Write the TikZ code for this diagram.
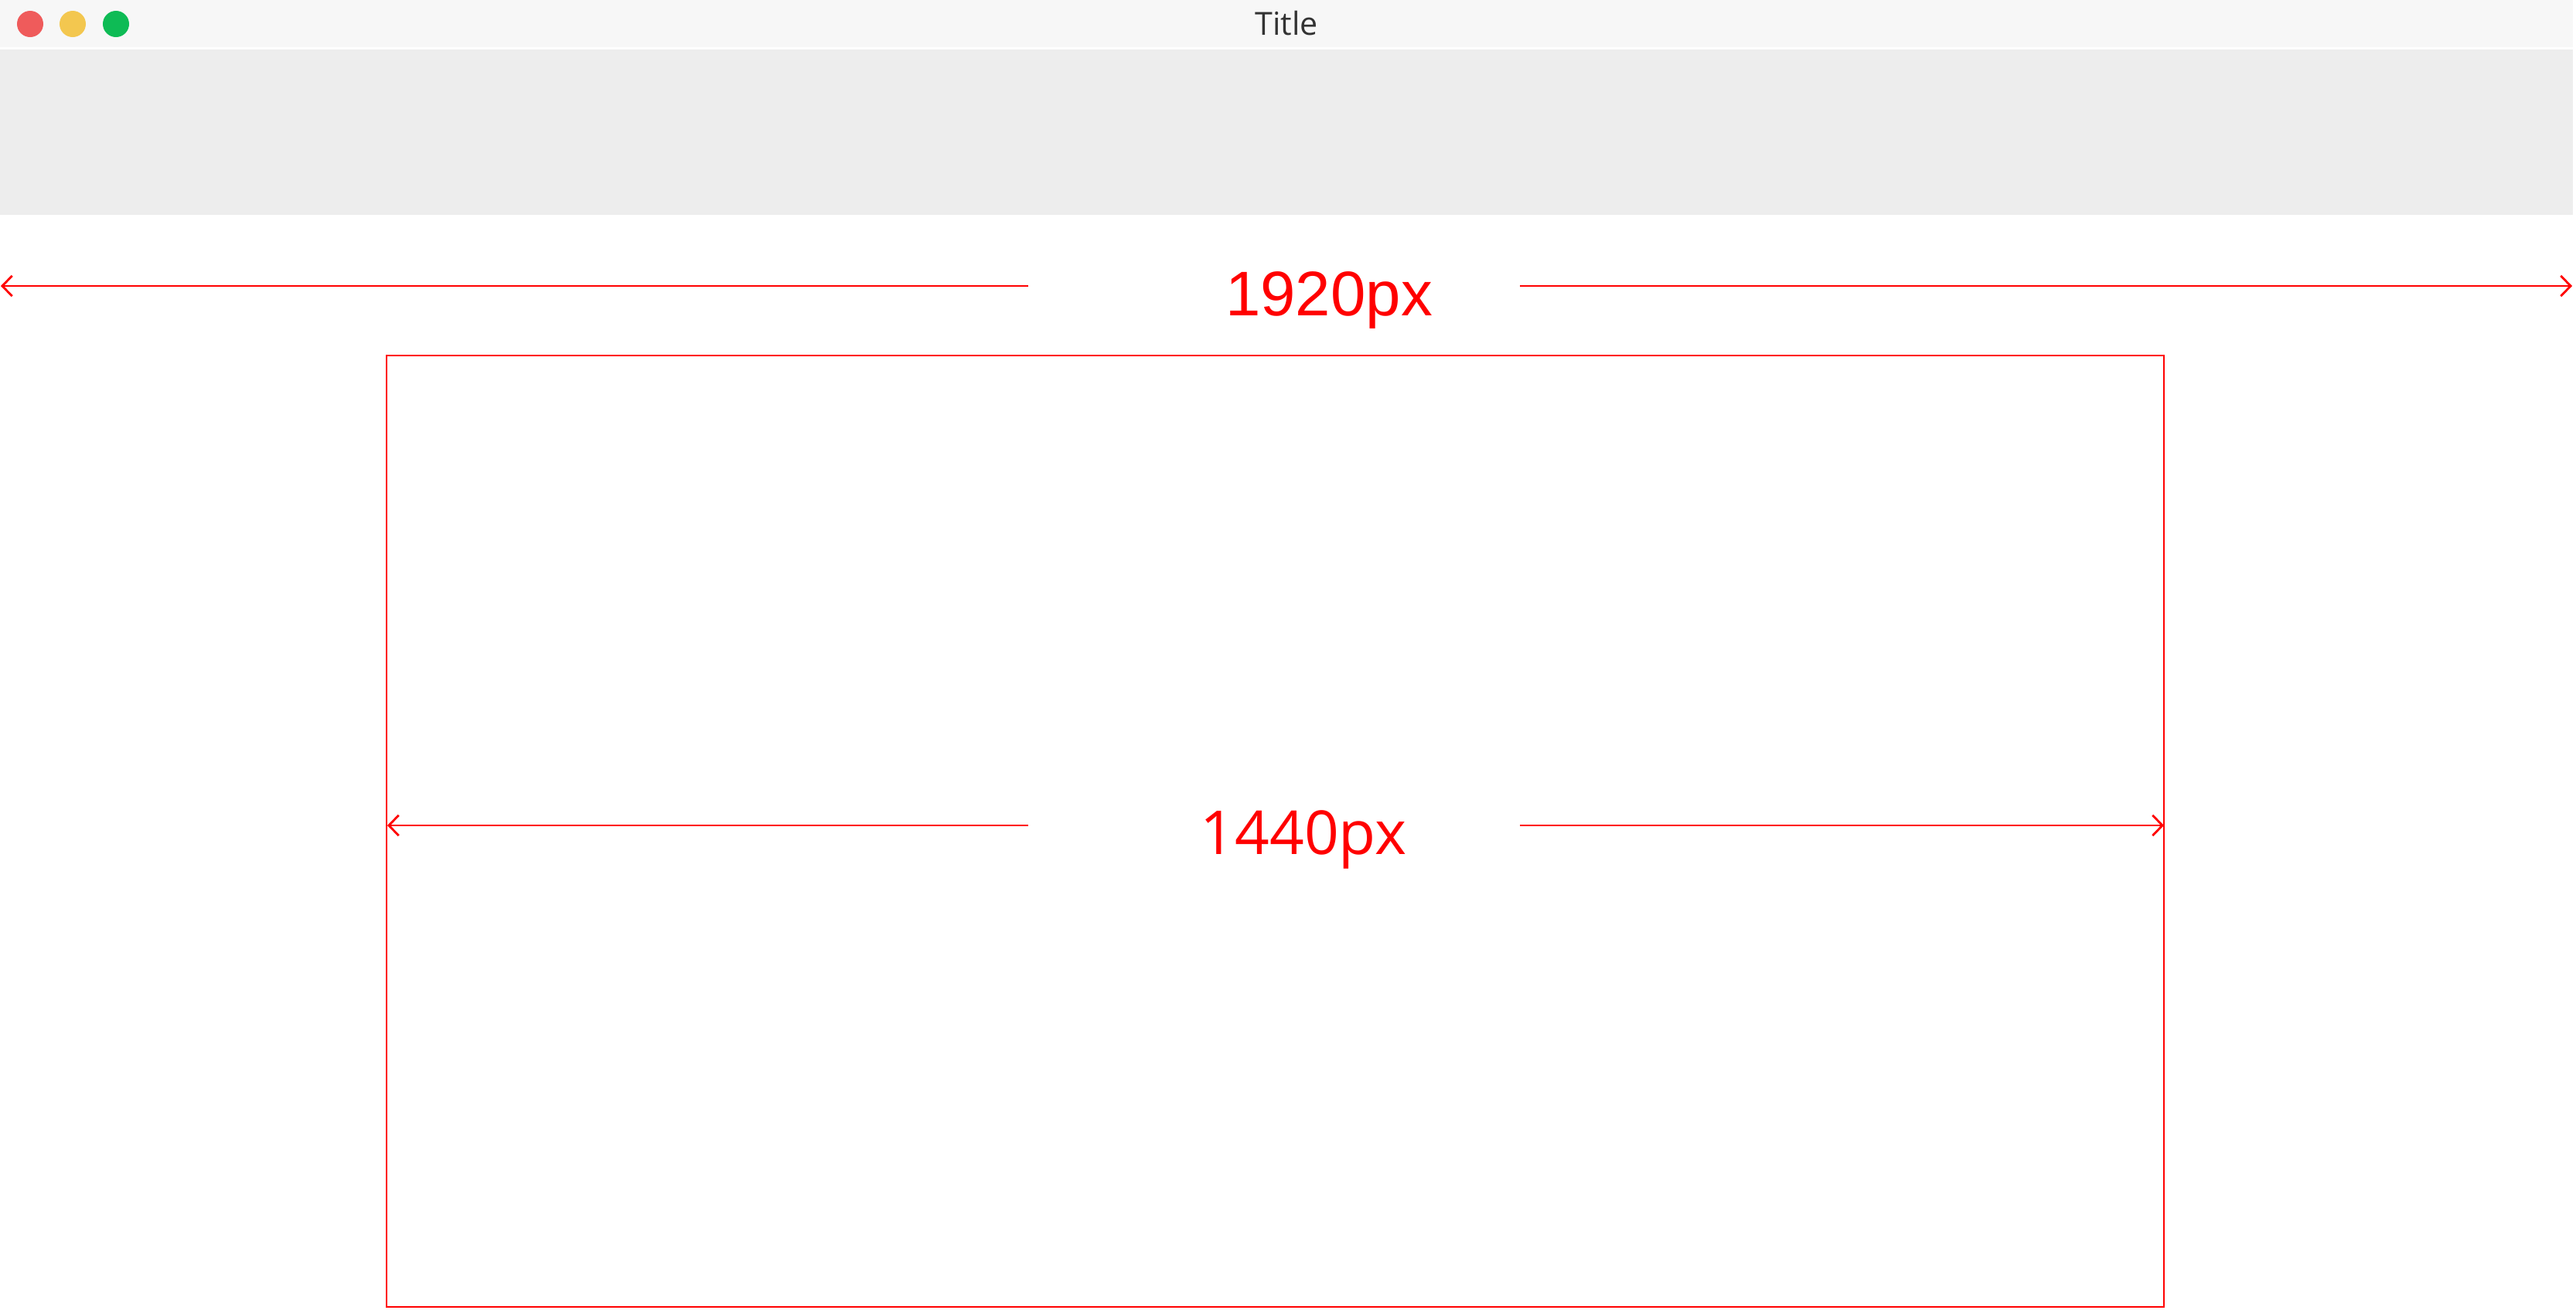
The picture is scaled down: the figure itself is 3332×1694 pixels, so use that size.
\documentclass[tikz,border=0pt]{standalone}
\usepackage{fontspec}
\newfontfamily\osans{Open Sans}
\newfontfamily\lsans{Liberation Sans}
\usetikzlibrary{arrows.meta}
\definecolor{barbg}{HTML}{F7F7F7}
\definecolor{toolbg}{HTML}{EDEDED}
\definecolor{tlred}{HTML}{EF5B5B}
\definecolor{tlyellow}{HTML}{F3C74F}
\definecolor{tlgreen}{HTML}{0EBB55}
\definecolor{titlegray}{HTML}{333333}
\definecolor{dimred}{HTML}{FF0000}
\tikzset{
  light/.style={circle, inner sep=0pt, minimum size=8.5pt},
  dimarrow/.style={draw=dimred, line width=0.7pt, -{Straight Barb[length=3.2pt,width=6.6pt,line width=0.7pt]}},
  dimlabel/.style={anchor=base, text=dimred, inner sep=0pt},
}
\begin{document}
\begin{tikzpicture}[x=0.25pt,y=-0.25pt]
\useasboundingbox (0,0) rectangle (3332,1694);
\fill[white] (0,0) rectangle (3332,1694);
% title bar and toolbar
\fill[barbg] (0,0) rectangle (3328,61);
\fill[toolbg] (0,64) rectangle (3328,278);
\node[light, fill=tlred] (lr) at (39,31) {};
\node[light, fill=tlyellow] (ly) at (94,31) {};
\node[light, fill=tlgreen] (lg) at (150,31) {};
\node[anchor=base, inner sep=0pt, text=titlegray, font=\osans\fontsize{10.3pt}{12pt}\selectfont] (title) at (1664,45) {Title};
% 1920px dimension
\node[dimlabel, font=\lsans\fontsize{20.4pt}{24pt}\selectfont] (w1920) at (1719,408) {1920px};
\coordinate (a1gl) at (1330,370);
\coordinate (a1l) at (1,370);
\coordinate (a1gr) at (1966,370);
\coordinate (a1r) at (3327,370);
\draw[dimarrow] (a1gl) -- (a1l);
\draw[dimarrow] (a1gr) -- (a1r);
% content frame
\node[draw=dimred, line width=0.5pt, inner sep=0pt, minimum width=574.75pt, minimum height=307.75pt] (frame) at (1649.5,1075.5) {};
% 1440px dimension
\node[dimlabel, font=\osans\fontsize{19.6pt}{24pt}\selectfont] (w1440) at (1686,1105) {1440px};
\coordinate (a2gl) at (1330,1068);
\coordinate (a2l) at (501,1068);
\coordinate (a2gr) at (1966,1068);
\coordinate (a2r) at (2799,1068);
\draw[dimarrow] (a2gl) -- (a2l);
\draw[dimarrow] (a2gr) -- (a2r);
\end{tikzpicture}
\end{document}
